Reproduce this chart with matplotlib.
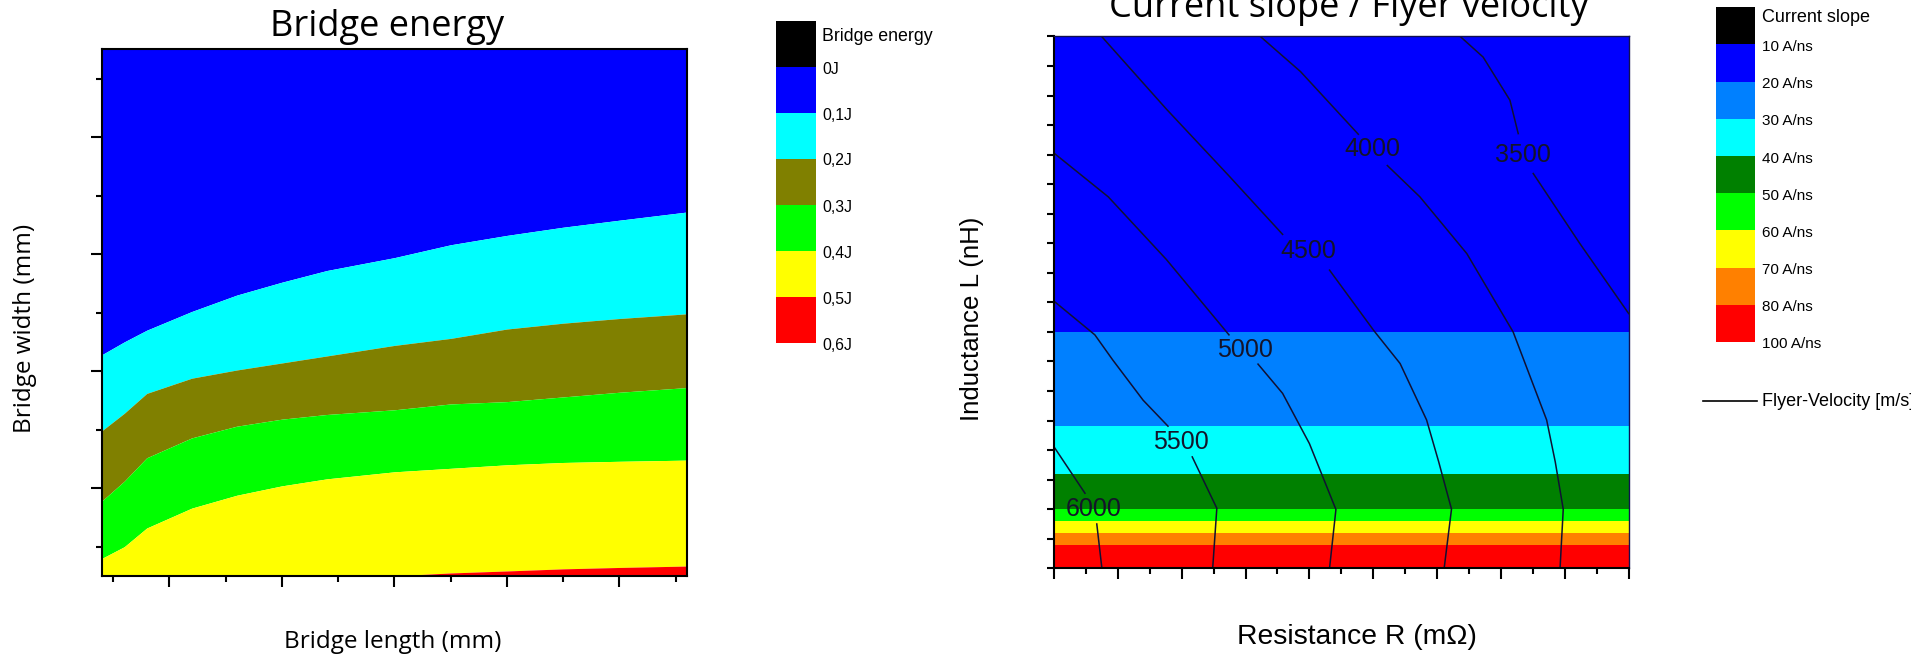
import matplotlib
matplotlib.use('Agg')
import matplotlib.pyplot as plt
from matplotlib.lines import Line2D

# ---------------- data ----------------
# Left chart: Bridge energy, boundaries between energy bands (y values at be_x)
be_x = [-0.1, 0.1, 0.3, 0.7, 1.1, 1.5, 1.9, 2.5, 3.0, 3.5, 4.0, 4.5, 5.1]
be_01J = [1.64, 1.75, 1.85, 2.01, 2.15, 2.26, 2.36, 2.47, 2.58, 2.66, 2.73, 2.79, 2.86]
be_02J = [0.99, 1.14, 1.31, 1.44, 1.51, 1.57, 1.63, 1.72, 1.78, 1.86, 1.91, 1.95, 1.99]
be_03J = [0.39, 0.56, 0.76, 0.93, 1.03, 1.09, 1.13, 1.17, 1.22, 1.24, 1.28, 1.32, 1.36]
be_04J = [-0.10, 0.00, 0.16, 0.33, 0.44, 0.52, 0.58, 0.64, 0.67, 0.70, 0.72, 0.73, 0.74]
be_05J = [-0.25, -0.25, -0.25, -0.25, -0.25, -0.25, -0.25, -0.249, -0.224, -0.207, -0.189, -0.177, -0.165]
be_colors = ['#0000FF', '#00FFFF', '#808000', '#00FF00', '#FFFF00', '#FF0000']
be_legend_colors = ['#000000', '#0000FF', '#00FFFF', '#808000', '#00FF00', '#FFFF00', '#FF0000']
be_legend_labels = ['0J', '0,1J', '0,2J', '0,3J', '0,4J', '0,5J', '0,6J']

# Right chart: current slope bands (inductance boundaries), bottom -> top
cs_edges = [0, 0.8, 1.2, 1.6, 2.0, 3.2, 4.8, 8.0, 18]
cs_colors = ['#FF0000', '#FF8000', '#FFFF00', '#00FF00', '#008000', '#00FFFF', '#0080FF', '#0000FF']
cs_legend_colors = ['#000000', '#0000FF', '#0080FF', '#00FFFF', '#008000', '#00FF00',
                    '#FFFF00', '#FF8000', '#FF0000']
cs_legend_labels = ['10 A/ns', '20 A/ns', '30 A/ns', '40 A/ns', '50 A/ns', '60 A/ns',
                    '70 A/ns', '80 A/ns', '100 A/ns']

# Flyer velocity iso-lines: (R, L) points before and after the label, label position
fv_levels = ['6000', '5500', '5000', '4500', '4000', '3500']
fv_before = [
    [(0, 4.11), (0.97, 2.54)],
    [(0, 9.04), (1.28, 7.90), (1.84, 7.05), (2.79, 5.69), (3.57, 4.81)],
    [(0, 14.05), (1.70, 12.57), (3.52, 10.45), (5.48, 7.90)],
    [(1.49, 18), (3.52, 15.54), (5.48, 13.28), (7.16, 11.30)],
    [(6.46, 18), (7.72, 16.81), (9.53, 14.69)],
    [(12.72, 18), (13.44, 17.3), (14.28, 15.84), (14.54, 14.71)],
]
fv_after = [
    [(1.34, 1.50), (1.50, 0)],
    [(4.33, 3.77), (5.10, 2.03), (4.97, 0)],
    [(6.39, 6.91), (7.16, 5.92), (8.00, 4.22), (8.83, 1.99), (8.63, 0)],
    [(8.63, 10.09), (10.02, 8.04), (10.84, 6.93), (11.67, 5.02), (12.05, 3.6), (12.45, 2.0), (12.22, 0)],
    [(10.44, 13.63), (11.46, 12.57), (12.93, 10.65), (14.38, 8.0), (15.43, 5.02), (15.7, 3.6), (15.95, 2.0), (15.85, 0)],
    [(15.01, 13.36), (16.47, 10.99), (18, 8.62)],
]
fv_label_pos = [(1.25, 2.01), (3.97, 4.26), (5.97, 7.39), (7.97, 10.75), (9.98, 14.19), (14.70, 13.98)]

# ---------------- layout helpers ----------------
W, H = 1911, 656
fig = plt.figure(figsize=(W / 100, H / 100), dpi=100)


def fx(px):
    return px / W


def fy(py):
    return 1 - py / H


def rect(x0, y0, x1, y1):
    return [fx(x0), fy(y1), fx(x1) - fx(x0), fy(y0) - fy(y1)]


SEGOE = ['Open Sans', 'DejaVu Sans']
ARIAL = ['Liberation Sans', 'DejaVu Sans']

# ---------------- left chart ----------------
ax1 = fig.add_axes(rect(101.7, 49.3, 687, 576))
ymin, ymax = -0.25, 4.25
bounds = [ymax, be_01J, be_02J, be_03J, be_04J, be_05J, ymin]
for i, c in enumerate(be_colors):
    top = bounds[i] if isinstance(bounds[i], list) else [bounds[i]] * len(be_x)
    bot = bounds[i + 1] if isinstance(bounds[i + 1], list) else [bounds[i + 1]] * len(be_x)
    ax1.fill_between(be_x, bot, top, color=c, lw=0, zorder=1)
ax1.set_xlim(-0.1, 5.1)
ax1.set_ylim(ymin, ymax)
ax1.set_xticks([0.5, 1.5, 2.5, 3.5, 4.5])
ax1.set_xticks([0, 1, 2, 3, 4, 5], minor=True)
ax1.set_yticks([0.5, 1.5, 2.5, 3.5])
ax1.set_yticks([0, 1, 2, 3, 4], minor=True)
ax1.tick_params(which='major', length=8, width=1.5, direction='out',
                labelbottom=False, labelleft=False)
ax1.tick_params(which='minor', length=4.3, width=1.5, direction='out')
for s in ax1.spines.values():
    s.set_linewidth(1.5)
    s.set_color('black')
    s.set_zorder(5)

fig.text(fx(386.7), fy(36), 'Bridge energy', ha='center', va='baseline',
         fontsize=26, family=SEGOE)
fig.text(fx(392.5), fy(642), 'Bridge length (mm)', ha='center', va='center',
         fontsize=17.5, family=SEGOE)
fig.text(fx(25), fy(328), 'Bridge width (mm)', ha='center', va='center',
         rotation=90, fontsize=17.5, family=SEGOE)

# left legend
lg1 = fig.add_axes(rect(776, 21, 816, 343))
for i, c in enumerate(be_legend_colors):
    lg1.axhspan(i, i + 1, color=c, lw=0)
lg1.set_ylim(len(be_legend_colors), 0)
lg1.set_xlim(0, 1)
lg1.axis('off')
band1 = (343 - 21) / len(be_legend_colors)
fig.text(fx(822), fy(36.4), 'Bridge energy', ha='left', va='center', fontsize=12.8, family=ARIAL)
for i, lab in enumerate(be_legend_labels):
    fig.text(fx(822), fy(21 + band1 * (i + 1) + 2), lab, ha='left', va='center',
             fontsize=11.3, family=ARIAL)

# ---------------- right chart ----------------
ax2 = fig.add_axes(rect(1054, 36.4, 1628.7, 568.3))
for i, c in enumerate(cs_colors):
    ax2.axhspan(cs_edges[i], cs_edges[i + 1], color=c, lw=0, zorder=1)
for seg_a, seg_b, lab, pos in zip(fv_before, fv_after, fv_levels, fv_label_pos):
    for seg in (seg_a, seg_b):
        xs = [p[0] for p in seg]
        ys = [p[1] for p in seg]
        ax2.plot(xs, ys, color='#111133', lw=1.1, zorder=3)
    ax2.text(pos[0], pos[1], lab, ha='center', va='center', fontsize=18,
             family=ARIAL, color='#14142a', zorder=4)
ax2.set_xlim(0, 18)
ax2.set_ylim(0, 18)
ax2.set_xticks(range(0, 19, 2))
ax2.set_xticks(range(1, 19, 2), minor=True)
ax2.set_yticks(range(0, 19))
ax2.tick_params(axis='x', which='major', length=7.7, width=1.5, direction='out', labelbottom=False)
ax2.tick_params(axis='x', which='minor', length=4.1, width=1.5, direction='out')
ax2.tick_params(axis='y', which='major', length=5, width=1.5, direction='out', labelleft=False)
for side in ('left', 'bottom'):
    ax2.spines[side].set_linewidth(1.5)
    ax2.spines[side].set_color('black')
for side in ('top', 'right'):
    ax2.spines[side].set_linewidth(1.0)
    ax2.spines[side].set_color('#101050')
for s in ax2.spines.values():
    s.set_zorder(5)

fig.text(fx(1348.5), fy(17), 'Current slope / Flyer velocity', ha='center', va='baseline',
         fontsize=26, family=SEGOE)
fig.text(fx(1357), fy(637), 'Resistance R (m\u03a9)', ha='center', va='center',
         fontsize=20.3, family=ARIAL)
fig.text(fx(972), fy(319), 'Inductance L (nH)', ha='center', va='center',
         rotation=90, fontsize=18.6, family=ARIAL)

# right legend
lg2 = fig.add_axes(rect(1716, 7.3, 1755, 342))
for i, c in enumerate(cs_legend_colors):
    lg2.axhspan(i, i + 1, color=c, lw=0)
lg2.set_ylim(len(cs_legend_colors), 0)
lg2.set_xlim(0, 1)
lg2.axis('off')
band2 = (342 - 7.3) / len(cs_legend_colors)
fig.text(fx(1762), fy(18), 'Current slope', ha='left', va='center', fontsize=13, family=ARIAL)
for i, lab in enumerate(cs_legend_labels):
    fig.text(fx(1762), fy(7.3 + band2 * (i + 1) + 2.5), lab, ha='left', va='center',
             fontsize=11, family=ARIAL)

fig.add_artist(Line2D([fx(1703), fx(1757)], [fy(401), fy(401)], transform=fig.transFigure,
                      color='black', lw=1.2))
fig.text(fx(1762), fy(401), 'Flyer-Velocity [m/s]', ha='left', va='center',
         fontsize=13, family=ARIAL)

fig.savefig('out.png', dpi=100)
